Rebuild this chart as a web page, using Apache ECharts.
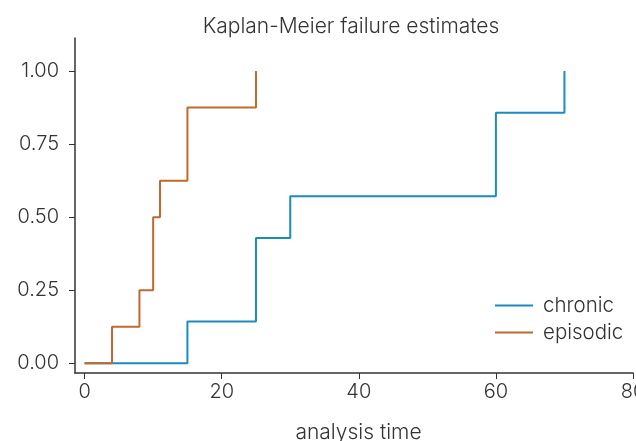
<!DOCTYPE html>
<html>
<head>
	<meta charset="UTF-8">
	<title></title>
	<style>
		html, body { margin: 0; padding: 0; background: #fff; }
		#chart { width: 636px; height: 441px; }
	</style>
	<script src="https://cdn.jsdelivr.net/npm/echarts@6/dist/echarts.min.js"></script>
</head>
<body>
	<div id="chart"></div>
	<script>
		var chronicTime = [0, 15, 25, 30, 60, 70];
		var chronicFail = [0, 0.1429, 0.4286, 0.5714, 0.8571, 1.0];
		var episodicTime = [0, 4, 8, 10, 11, 15, 25];
		var episodicFail = [0, 0.125, 0.25, 0.5, 0.625, 0.875, 1.0];
		var xTicks = [0, 20, 40, 60, 80];
		var yTicks = [0, 0.25, 0.5, 0.75, 1.0];

		function pairs(t, v) {
			return t.map(function (x, i) { return [x, v[i]]; });
		}

		var font = 'Inter';
		var ink = '#333';

		var myChart = echarts.init(document.getElementById('chart'));
		myChart.setOption({
			animation: false,
			title: {
				text: 'Kaplan-Meier failure estimates',
				left: 346,
				textAlign: 'center',
				top: 11,
				textStyle: { fontFamily: font, fontWeight: 300, fontSize: 21, color: ink }
			},
			grid: { left: 75, right: 3, top: 38, bottom: 68, containLabel: false, outerBoundsMode: 'none' },
			legend: {
				orient: 'vertical',
				left: 495,
				top: 295,
				padding: 0,
				icon: 'rect',
				itemWidth: 38,
				itemHeight: 2,
				itemGap: 6,
				textStyle: { fontFamily: font, fontWeight: 300, fontSize: 20.5, color: ink, padding: [0, 0, 0, 5] },
				data: ['chronic', 'episodic']
			},
			xAxis: {
				type: 'value',
				min: -1.4,
				max: 80,
				name: 'analysis time',
				nameLocation: 'middle',
				nameGap: 49,
				nameTextStyle: { fontFamily: font, fontWeight: 300, fontSize: 21, color: ink, padding: [0, 0, 0, 9] },
				splitLine: { show: false },
				axisLine: { onZero: false, lineStyle: { color: ink, width: 1.5 } },
				axisTick: { customValues: xTicks, length: 6, lineStyle: { color: ink } },
				axisLabel: { customValues: xTicks, fontFamily: font, fontWeight: 300, fontSize: 20, color: ink, margin: 9 }
			},
			yAxis: {
				type: 'value',
				min: -0.033,
				max: 1.113,
				splitLine: { show: false },
				axisLine: { show: true, onZero: false, lineStyle: { color: ink, width: 1.5 } },
				axisTick: { show: true, customValues: yTicks, length: 6, lineStyle: { color: ink } },
				axisLabel: {
					customValues: yTicks, fontFamily: font, fontWeight: 300, fontSize: 20, color: ink, margin: 16,
					formatter: function (v) { return v.toFixed(2); }
				}
			},
			series: [
				{
					name: 'chronic',
					type: 'line',
					step: 'end',
					symbol: 'none',
					itemStyle: { color: '#1a8dbe' },
					lineStyle: { color: '#1a8dbe', width: 2 },
					data: pairs(chronicTime, chronicFail)
				},
				{
					name: 'episodic',
					type: 'line',
					step: 'end',
					symbol: 'none',
					itemStyle: { color: '#c0692c' },
					lineStyle: { color: '#c0692c', width: 2 },
					data: pairs(episodicTime, episodicFail)
				}
			]
		});
	</script>
</body>
</html>
